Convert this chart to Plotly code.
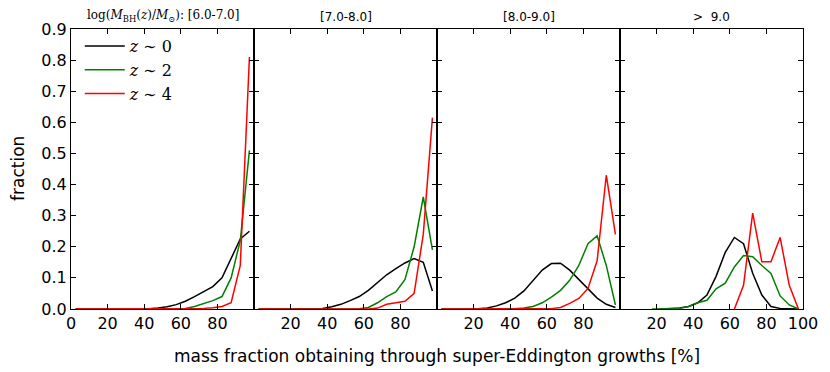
import plotly.graph_objects as go

x_centers = [2.5, 7.5, 12.5, 17.5, 22.5, 27.5, 32.5, 37.5, 42.5, 47.5,
             52.5, 57.5, 62.5, 67.5, 72.5, 77.5, 82.5, 87.5, 92.5, 97.5]

panel_titles = [
    'log(<i>M</i><sub>BH</sub>(<i>z</i>)/<i>M</i><sub>⊙</sub>): [6.0-7.0]',
    '[7.0-8.0]', '[8.0-9.0]', '&gt;  9.0'
]
series_names = ['<i>z</i> ∼ 0', '<i>z</i> ∼ 2', '<i>z</i> ∼ 4']
series_colors = ['black', 'green', 'red']

# panel 1 : [6.0-7.0]
p1_z0 = [0, 0, 0, 0, 0, 0, 0, 0, 0.001, 0.003, 0.007, 0.014, 0.025, 0.04, 0.055, 0.072, 0.10, 0.16, 0.225, 0.25]
p1_z2 = [0, 0, 0, 0, 0, 0, 0, 0, 0, 0, 0, 0, 0.002, 0.008, 0.018, 0.027, 0.04, 0.10, 0.22, 0.51]
p1_z4 = [0, 0, 0, 0, 0, 0, 0, 0, 0, 0, 0, 0, 0, 0.001, 0.002, 0.004, 0.008, 0.02, 0.14, 0.81]
# panel 2 : [7.0-8.0]
p2_z0 = [0, 0, 0, 0, 0, 0, 0, 0.002, 0.007, 0.015, 0.027, 0.04, 0.06, 0.085, 0.11, 0.13, 0.148, 0.162, 0.15, 0.058]
p2_z2 = [0, 0, 0, 0, 0, 0, 0, 0, 0, 0, 0, 0.001, 0.005, 0.02, 0.04, 0.055, 0.095, 0.20, 0.36, 0.19]
p2_z4 = [0, 0, 0, 0, 0, 0, 0, 0, 0, 0, 0, 0, 0, 0.003, 0.015, 0.02, 0.025, 0.05, 0.24, 0.615]
# panel 3 : [8.0-9.0]
p3_z0 = [0, 0, 0, 0, 0.001, 0.003, 0.01, 0.02, 0.035, 0.058, 0.09, 0.125, 0.146, 0.147, 0.125, 0.095, 0.062, 0.035, 0.015, 0.005]
p3_z2 = [0, 0, 0, 0, 0, 0, 0, 0, 0.001, 0.003, 0.008, 0.02, 0.038, 0.06, 0.092, 0.14, 0.21, 0.235, 0.14, 0.013]
p3_z4 = [0, 0, 0, 0, 0, 0, 0, 0, 0, 0, 0, 0, 0.001, 0.005, 0.018, 0.034, 0.066, 0.155, 0.43, 0.24]
# panel 4 : > 9.0
p4_z0 = [None, None, None, None, 0, 0.001, 0.003, 0.008, 0.02, 0.045, 0.105, 0.182, 0.23, 0.21, 0.115, 0.045, 0.008, 0.002, 0, 0]
p4_z2 = [None, None, None, 0, 0.001, 0.001, 0.002, 0.008, 0.02, 0.028, 0.065, 0.083, 0.135, 0.172, 0.168, 0.14, 0.114, 0.042, 0.013, 0.0]
p4_z4 = [None, None, None, None, None, None, None, None, None, None, None, None, 0.0, 0.076, 0.308, 0.152, 0.152, 0.23, 0.076, 0.0]

panels = [
    [p1_z0, p1_z2, p1_z4],
    [p2_z0, p2_z2, p2_z4],
    [p3_z0, p3_z2, p3_z4],
    [p4_z0, p4_z2, p4_z4],
]

x_tickvals = [[0, 20, 40, 60, 80], [20, 40, 60, 80], [20, 40, 60, 80], [20, 40, 60, 80, 100]]
y_tickvals = [0, 0.1, 0.2, 0.3, 0.4, 0.5, 0.6, 0.7, 0.8, 0.9]
y_ticktext = ['0.0', '0.1', '0.2', '0.3', '0.4', '0.5', '0.6', '0.7', '0.8', '0.9']

fig = go.Figure()
for i, panel in enumerate(panels):
    suffix = '' if i == 0 else str(i + 1)
    for j, ys in enumerate(panel):
        fig.add_trace(go.Scatter(
            x=x_centers, y=ys, mode='lines', name=series_names[j],
            line=dict(color=series_colors[j], width=1.5),
            xaxis='x' + suffix, yaxis='y' + suffix,
            showlegend=(i == 0), connectgaps=False,
        ))

layout = dict(
    width=822, height=364,
    margin=dict(l=63, r=25, t=17, b=63),
    plot_bgcolor='white', paper_bgcolor='white',
    font=dict(family='DejaVu Sans', size=16, color='black'),
    showlegend=True,
    legend=dict(x=0.012, y=1.0, xanchor='left', yanchor='top',
                bgcolor='rgba(0,0,0,0)', borderwidth=0,
                font=dict(family='DejaVu Serif', size=16),
                tracegroupgap=0, itemwidth=40),
)
annotations = []
for i in range(4):
    suffix = '' if i == 0 else str(i + 1)
    d0 = i * 0.25
    d1 = (i + 1) * 0.25
    layout['xaxis' + suffix] = dict(
        domain=[d0, d1], range=[0, 100], tickvals=x_tickvals[i],
        ticks='inside', ticklen=5, tickwidth=1, tickcolor='black',
        showline=True, linecolor='black', linewidth=1.2, mirror='ticks',
        showgrid=False, zeroline=False, anchor='y' + suffix,
        tickfont=dict(size=16),
    )
    layout['yaxis' + suffix] = dict(
        domain=[0, 1], range=[0, 0.9], tickvals=y_tickvals, ticktext=y_ticktext,
        ticks='inside', ticklen=5, tickwidth=1, tickcolor='black',
        showline=True, linecolor='black', linewidth=1.2, mirror='ticks',
        showgrid=False, zeroline=False, anchor='x' + suffix,
        showticklabels=(i == 0), tickfont=dict(size=16),
    )
    title_font = dict(family='DejaVu Serif' if i == 0 else 'DejaVu Sans', size=12)
    annotations.append(dict(
        text=panel_titles[i], x=(d0 + d1) / 2, y=1, xref='paper', yref='paper',
        xanchor='center', yanchor='bottom', yshift=3, showarrow=False,
        font=title_font,
    ))
annotations.append(dict(
    text='mass fraction obtaining through super-Eddington growths [%]',
    x=0.5, y=0, xref='paper', yref='paper', xanchor='center', yanchor='top',
    yshift=-35, showarrow=False, font=dict(size=17),
))
annotations.append(dict(
    text='fraction', x=0, y=0.5, xref='paper', yref='paper', xanchor='right',
    yanchor='middle', xshift=-41, textangle=-90, showarrow=False,
    font=dict(size=17),
))
layout['annotations'] = annotations
fig.update_layout(**layout)
fig.write_html('out.html')
